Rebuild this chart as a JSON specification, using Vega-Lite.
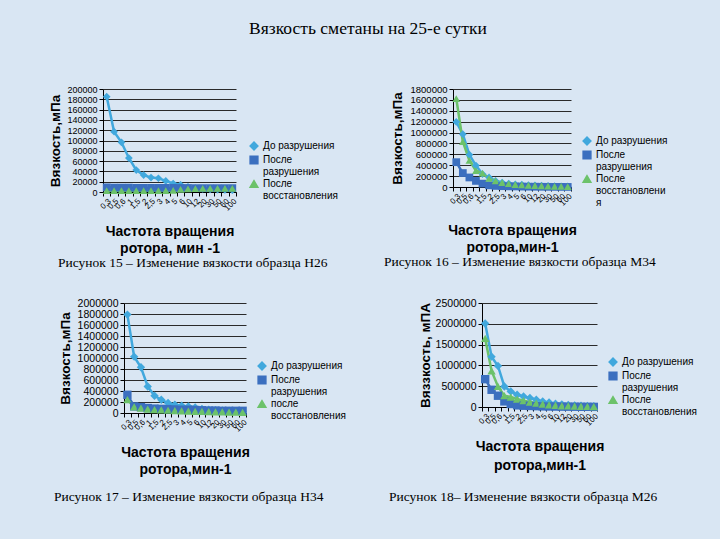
{
  "$schema": "https://vega.github.io/schema/vega-lite/v6.json",
  "background": "#d9e6f3",
  "padding": {"left": 48, "top": 19, "right": 25, "bottom": 35},
  "autosize": {"type": "pad"},
  "title": {"text": "Вязкость сметаны на 25-е сутки", "font": "Liberation Serif", "fontSize": 17.5, "fontWeight": "normal", "color": "#000", "anchor": "middle", "offset": 47, "dx": -5},
  "datasets": {
    "h26": [
      {"x": "0,3", "d": 185000, "p": 9000, "v": 2500},
      {"x": "0,5", "d": 117000, "p": 8500, "v": 2500},
      {"x": "0,6", "d": 96500, "p": 8500, "v": 2500},
      {"x": "1", "d": 66000, "p": 8500, "v": 2500},
      {"x": "1,5", "d": 42500, "p": 8000, "v": 2500},
      {"x": "2", "d": 33000, "p": 8000, "v": 2500},
      {"x": "2,5", "d": 28000, "p": 8000, "v": 2500},
      {"x": "3", "d": 26700, "p": 8000, "v": 2500},
      {"x": "4", "d": 21600, "p": 8000, "v": 2500},
      {"x": "5", "d": 16500, "p": 8000, "v": 3000},
      {"x": "6", "d": 14000, "p": 7800, "v": 5000},
      {"x": "10", "d": 10000, "p": 7800, "v": 6000},
      {"x": "12", "d": 7600, "p": 7500, "v": 6500},
      {"x": "20", "d": 6300, "p": 7500, "v": 7000},
      {"x": "30", "d": 5000, "p": 7500, "v": 7000},
      {"x": "50", "d": 4500, "p": 7500, "v": 7000},
      {"x": "60", "d": 4000, "p": 7500, "v": 7000},
      {"x": "100", "d": 3500, "p": 7500, "v": 7000}
    ],
    "m34": [
      {"x": "0,3", "d": 1194000, "p": 456000, "v": 1625000},
      {"x": "0,5", "d": 969000, "p": 256000, "v": 831000},
      {"x": "0,6", "d": 594000, "p": 175000, "v": 487000},
      {"x": "1", "d": 394000, "p": 112000, "v": 300000},
      {"x": "1,5", "d": 237000, "p": 62000, "v": 256000},
      {"x": "2", "d": 175000, "p": 31000, "v": 156000},
      {"x": "2,5", "d": 112000, "p": 20000, "v": 112000},
      {"x": "3", "d": 81000, "p": 15000, "v": 80000},
      {"x": "4", "d": 62000, "p": 12000, "v": 60000},
      {"x": "5", "d": 50000, "p": 10000, "v": 45000},
      {"x": "6", "d": 44000, "p": 8000, "v": 40000},
      {"x": "10", "d": 35000, "p": 6000, "v": 30000},
      {"x": "12", "d": 30000, "p": 5000, "v": 25000},
      {"x": "20", "d": 25000, "p": 4000, "v": 20000},
      {"x": "30", "d": 20000, "p": 3000, "v": 15000},
      {"x": "50", "d": 15000, "p": 2500, "v": 12000},
      {"x": "60", "d": 12000, "p": 2000, "v": 10000},
      {"x": "100", "d": 10000, "p": 1500, "v": 8000}
    ],
    "h34": [
      {"x": "0,3", "d": 1789000, "p": 331000, "v": 241000},
      {"x": "0,5", "d": 1024000, "p": 120000, "v": 110000},
      {"x": "0,6", "d": 831000, "p": 108000, "v": 90000},
      {"x": "1", "d": 482000, "p": 90000, "v": 70000},
      {"x": "1,5", "d": 313000, "p": 80000, "v": 60000},
      {"x": "2", "d": 241000, "p": 75000, "v": 55000},
      {"x": "2,5", "d": 181000, "p": 70000, "v": 50000},
      {"x": "3", "d": 150000, "p": 65000, "v": 45000},
      {"x": "4", "d": 132000, "p": 60000, "v": 40000},
      {"x": "5", "d": 120000, "p": 60000, "v": 35000},
      {"x": "6", "d": 102000, "p": 55000, "v": 30000},
      {"x": "10", "d": 72000, "p": 50000, "v": 28000},
      {"x": "12", "d": 60000, "p": 45000, "v": 25000},
      {"x": "20", "d": 50000, "p": 45000, "v": 22000},
      {"x": "30", "d": 45000, "p": 40000, "v": 20000},
      {"x": "50", "d": 40000, "p": 40000, "v": 18000},
      {"x": "60", "d": 35000, "p": 40000, "v": 15000},
      {"x": "100", "d": 30000, "p": 40000, "v": 12000}
    ],
    "m26": [
      {"x": "0,3", "d": 2006000, "p": 669000, "v": 1648000},
      {"x": "0,5", "d": 1210000, "p": 414000, "v": 868000},
      {"x": "0,6", "d": 987000, "p": 271000, "v": 494000},
      {"x": "1", "d": 494000, "p": 135000, "v": 271000},
      {"x": "1,5", "d": 374000, "p": 72000, "v": 239000},
      {"x": "2", "d": 295000, "p": 40000, "v": 191000},
      {"x": "2,5", "d": 255000, "p": 30000, "v": 151000},
      {"x": "3", "d": 215000, "p": 25000, "v": 119000},
      {"x": "4", "d": 175000, "p": 20000, "v": 96000},
      {"x": "5", "d": 135000, "p": 15000, "v": 70000},
      {"x": "6", "d": 111000, "p": 12000, "v": 50000},
      {"x": "10", "d": 80000, "p": 10000, "v": 40000},
      {"x": "12", "d": 64000, "p": 8000, "v": 30000},
      {"x": "20", "d": 50000, "p": 7000, "v": 25000},
      {"x": "30", "d": 40000, "p": 6000, "v": 20000},
      {"x": "50", "d": 30000, "p": 5000, "v": 15000},
      {"x": "60", "d": 25000, "p": 4000, "v": 12000},
      {"x": "100", "d": 20000, "p": 3000, "v": 10000}
    ]
  },
  "bounds": "flush",
  "spacing": 214,
  "resolve": {"scale": {"x": "independent", "y": "independent", "color": "independent", "shape": "independent"}, "legend": {"color": "independent", "shape": "independent"}, "axis": {"x": "independent", "y": "independent"}},
  "vconcat": [
    {
      "hconcat": [
        {
          "width": 133, "height": 103,
          "data": {"name": "h26"},
          "transform": [{"fold": ["d", "p", "v"], "as": ["s", "val"]}],
          "title": {"text": "Рисунок 15 – Изменение вязкости образца Н26", "orient": "bottom", "anchor": "start", "frame": "group", "dx": -45, "offset": 1},
          "encoding": {
            "x": {"field": "x", "type": "ordinal", "sort": null, "scale": {"type": "band", "paddingInner": 0, "paddingOuter": 0}, "axis": {"title": ["Частота вращения", "ротора, мин -1"], "titlePadding": 12}},
            "y": {"field": "val", "type": "quantitative", "scale": {"domain": [0, 200000], "nice": false}, "axis": {"values": [0, 20000, 40000, 60000, 80000, 100000, 120000, 140000, 160000, 180000, 200000], "format": "d", "title": "Вязкость,мПа", "labelFontSize": 9, "titlePadding": 4}},
            "color": {"field": "s", "type": "nominal", "scale": {"domain": ["d", "p", "v"], "range": ["#41a8dd", "#3b6fbf", "#6cc26a"]}, "legend": {"title": null, "orient": "none", "legendX": 146, "legendY": 52, "labelExpr": "datum.value=='d'?'До разрушения':datum.value=='p'?['После','разрушения']:['После','восстановления']"}}
          },
          "layer": [
            {"mark": {"type": "line", "strokeWidth": 2.5}},
            {"mark": {"type": "point", "filled": true, "opacity": 1, "size": 60}, "encoding": {"shape": {"field": "s", "type": "nominal", "scale": {"domain": ["d", "p", "v"], "range": ["diamond", "square", "triangle-up"]}, "legend": {"title": null, "orient": "none", "legendX": 146, "legendY": 52, "labelExpr": "datum.value=='d'?'До разрушения':datum.value=='p'?['После','разрушения']:['После','восстановления']"}}}}
          ]
        },
        {
          "width": 118, "height": 98,
          "data": {"name": "m34"},
          "transform": [{"fold": ["d", "p", "v"], "as": ["s", "val"]}],
          "title": {"text": "Рисунок 16 – Изменение вязкости образца М34", "orient": "bottom", "anchor": "start", "frame": "group", "dx": -69, "offset": 1},
          "encoding": {
            "x": {"field": "x", "type": "ordinal", "sort": null, "scale": {"type": "band", "paddingInner": 0, "paddingOuter": 0}, "axis": {"title": ["Частота вращения", "ротора,мин-1"], "titlePadding": 16}},
            "y": {"field": "val", "type": "quantitative", "scale": {"domain": [0, 1800000], "nice": false}, "axis": {"values": [0, 200000, 400000, 600000, 800000, 1000000, 1200000, 1400000, 1600000, 1800000], "format": "d", "title": "Вязкость,мПа", "labelFontSize": 9.5, "titlePadding": 6}},
            "color": {"field": "s", "type": "nominal", "scale": {"domain": ["d", "p", "v"], "range": ["#41a8dd", "#3b6fbf", "#6cc26a"]}, "legend": {"title": null, "orient": "none", "legendX": 129, "legendY": 47, "labelExpr": "datum.value=='d'?'До разрушения':datum.value=='p'?['После','разрушения']:['После','восстановлени','я']"}}
          },
          "layer": [
            {"mark": {"type": "line", "strokeWidth": 2.5}},
            {"mark": {"type": "point", "filled": true, "opacity": 1, "size": 60}, "encoding": {"shape": {"field": "s", "type": "nominal", "scale": {"domain": ["d", "p", "v"], "range": ["diamond", "square", "triangle-up"]}, "legend": {"title": null, "orient": "none", "legendX": 129, "legendY": 47, "labelExpr": "datum.value=='d'?'До разрушения':datum.value=='p'?['После','разрушения']:['После','восстановлени','я']"}}}}
          ]
        }
      ],
      "spacing": 217,
      "bounds": "flush",
      "resolve": {"scale": {"x": "independent", "y": "independent", "color": "independent", "shape": "independent"}, "legend": {"color": "independent", "shape": "independent"}, "axis": {"x": "independent", "y": "independent"}}
    },
    {
      "hconcat": [
        {"width": 1, "height": 1, "data": {"values": []}, "mark": {"type": "point", "opacity": 0}},
        {
          "hconcat": [
            {
              "width": 122, "height": 110,
              "data": {"name": "h34"},
              "transform": [{"fold": ["d", "p", "v"], "as": ["s", "val"]}],
              "title": {"text": "Рисунок 17 – Изменение вязкости образца Н34", "orient": "bottom", "anchor": "start", "frame": "group", "dx": -70, "offset": 14},
              "encoding": {
                "x": {"field": "x", "type": "ordinal", "sort": null, "scale": {"type": "band", "paddingInner": 0, "paddingOuter": 0}, "axis": {"title": ["Частота вращения", "ротора,мин-1"]}},
                "y": {"field": "val", "type": "quantitative", "scale": {"domain": [0, 2000000], "nice": false}, "axis": {"values": [0, 200000, 400000, 600000, 800000, 1000000, 1200000, 1400000, 1600000, 1800000, 2000000], "format": "d", "title": "Вязкость,мПа", "labelFontSize": 10.5, "titlePadding": 5}},
                "color": {"field": "s", "type": "nominal", "scale": {"domain": ["d", "p", "v"], "range": ["#41a8dd", "#3b6fbf", "#6cc26a"]}, "legend": {"title": null, "orient": "none", "legendX": 133, "legendY": 58, "labelExpr": "datum.value=='d'?'До разрушения':datum.value=='p'?['После','разрушения']:['после','восстановления']"}}
              },
              "layer": [
                {"mark": {"type": "line", "strokeWidth": 2.5}},
                {"mark": {"type": "point", "filled": true, "opacity": 1, "size": 70}, "encoding": {"shape": {"field": "s", "type": "nominal", "scale": {"domain": ["d", "p", "v"], "range": ["diamond", "square", "triangle-up"]}, "legend": {"title": null, "orient": "none", "legendX": 133, "legendY": 58, "labelExpr": "datum.value=='d'?'До разрушения':datum.value=='p'?['После','разрушения']:['после','восстановления']"}}}}
              ]
            },
            {
              "width": 115, "height": 104,
              "data": {"name": "m26"},
              "transform": [{"fold": ["d", "p", "v"], "as": ["s", "val"]}],
              "title": {"text": "Рисунок 18– Изменение вязкости образца М26", "orient": "bottom", "anchor": "start", "frame": "group", "dx": -93, "offset": 18},
              "encoding": {
                "x": {"field": "x", "type": "ordinal", "sort": null, "scale": {"type": "band", "paddingInner": 0, "paddingOuter": 0}, "axis": {"title": ["Частота вращения", "ротора,мин-1"], "titleLineHeight": 19}},
                "y": {"field": "val", "type": "quantitative", "scale": {"domain": [0, 2500000], "nice": false}, "axis": {"values": [0, 500000, 1000000, 1500000, 2000000, 2500000], "format": "d", "title": "Вяззкость, мПА", "labelFontSize": 10.5, "titlePadding": 3}},
                "color": {"field": "s", "type": "nominal", "scale": {"domain": ["d", "p", "v"], "range": ["#41a8dd", "#3b6fbf", "#6cc26a"]}, "legend": {"title": null, "orient": "none", "legendX": 126, "legendY": 54, "labelExpr": "datum.value=='d'?'До разрушения':datum.value=='p'?['После','разрушения']:['После','восстановления']"}}
              },
              "layer": [
                {"mark": {"type": "line", "strokeWidth": 2.5}},
                {"mark": {"type": "point", "filled": true, "opacity": 1, "size": 70}, "encoding": {"shape": {"field": "s", "type": "nominal", "scale": {"domain": ["d", "p", "v"], "range": ["diamond", "square", "triangle-up"]}, "legend": {"title": null, "orient": "none", "legendX": 126, "legendY": 54, "labelExpr": "datum.value=='d'?'До разрушения':datum.value=='p'?['После','разрушения']:['После','восстановления']"}}}}
              ]
            }
          ],
          "spacing": 236,
          "bounds": "flush",
          "resolve": {"scale": {"x": "independent", "y": "independent", "color": "independent", "shape": "independent"}, "legend": {"color": "independent", "shape": "independent"}, "axis": {"x": "independent", "y": "independent"}}
        }
      ],
      "spacing": 20,
      "bounds": "flush"
    }
  ],
  "config": {
    "font": "Liberation Sans",
    "view": {"stroke": null},
    "axis": {"domainColor": "#000", "tickColor": "#000", "labelColor": "#000", "titleColor": "#000", "gridColor": "#2a2a2a", "gridWidth": 1, "tickSize": 4, "domainWidth": 1},
    "axisX": {"grid": false, "labelAngle": -45, "labelFontSize": 8, "labelOverlap": false, "labelPadding": 1, "tickBand": "extent", "titleFontSize": 14, "titleFontWeight": "bold", "titleLineHeight": 17, "titlePadding": 12},
    "axisY": {"titleFontSize": 13.5, "titleFontWeight": "bold", "labelPadding": 2},
    "legend": {"labelFontSize": 10, "labelColor": "#000", "rowPadding": 0, "symbolSize": 60, "padding": 0, "labelOffset": 4},
    "title": {"font": "Liberation Serif", "fontSize": 13.5, "fontWeight": "normal", "color": "#000"}
  }
}
